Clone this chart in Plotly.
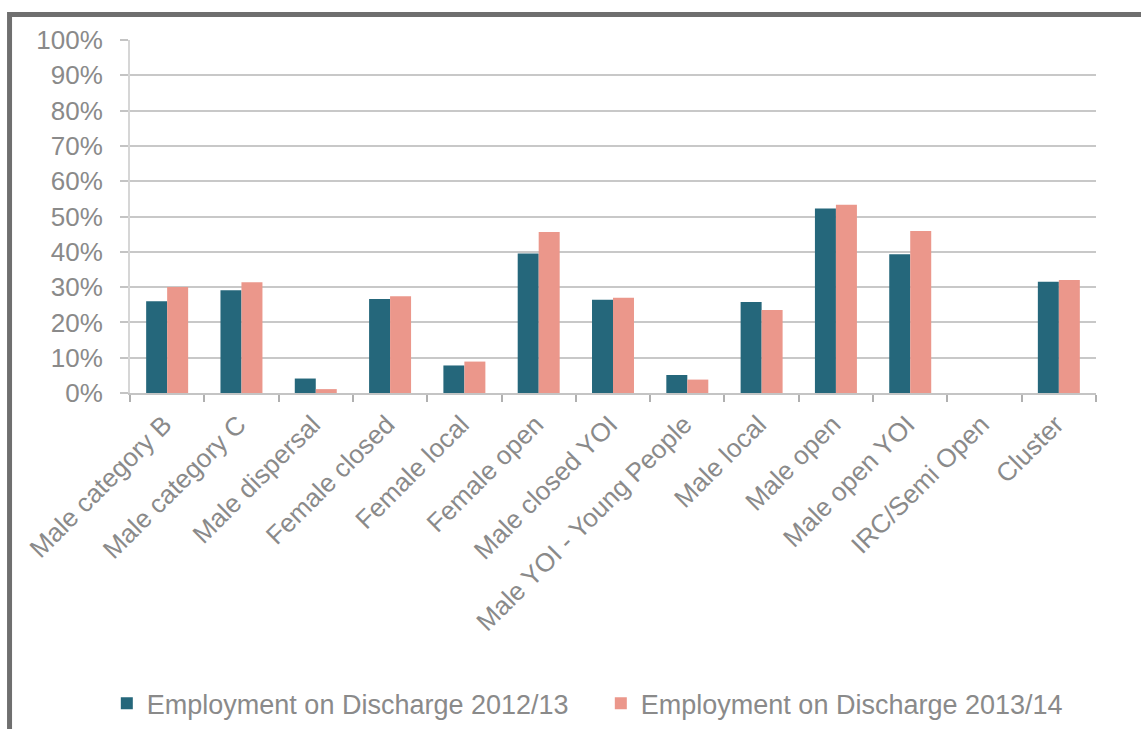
import plotly.graph_objects as go

categories = ["Male category B", "Male category C", "Male dispersal", "Female closed",
              "Female local", "Female open", "Male closed YOI", "Male YOI - Young People",
              "Male local", "Male open", "Male open YOI", "IRC/Semi Open", "Cluster"]
emp_2012_13 = [0.26, 0.291, 0.041, 0.266, 0.078, 0.395, 0.264, 0.051, 0.258, 0.523, 0.393, None, 0.315]
emp_2013_14 = [0.30, 0.314, 0.011, 0.274, 0.089, 0.456, 0.270, 0.038, 0.235, 0.533, 0.459, None, 0.320]
series_names = ["Employment on Discharge 2012/13", "Employment on Discharge 2013/14"]
y_ticks = [i / 10 for i in range(11)]
y_tick_labels = [f"{i*10}%" for i in range(11)]

FONT = "Liberation Sans, Arial, sans-serif"
TEXT = "#8a8a8a"
FS = 26

fig = go.Figure()
fig.add_trace(go.Bar(x=categories, y=emp_2012_13, name=series_names[0],
                     marker=dict(color="#25677b", line=dict(width=0))))
fig.add_trace(go.Bar(x=categories, y=emp_2013_14, name=series_names[1],
                     marker=dict(color="#eb978b", line=dict(width=0))))

fig.update_layout(
    width=1141, height=729,
    margin=dict(l=130, r=45, t=40, b=336, autoexpand=False),
    paper_bgcolor="white", plot_bgcolor="white",
    barmode="group", bargap=0.435, bargroupgap=0,
    font=dict(family=FONT, size=FS, color=TEXT),
    showlegend=True,
    legend=dict(orientation="h", x=-0.024, xanchor="left", y=-0.88, yanchor="middle",
                font=dict(family=FONT, size=27, color=TEXT),
                itemwidth=30, traceorder="normal",
                entrywidth=449, entrywidthmode="pixels"),
    xaxis=dict(type="category", showgrid=False, showline=True, linecolor="#c4c4c4", linewidth=2,
               ticks="outside", tickson="boundaries", ticklen=7, tickcolor="#b0b0b0", tickwidth=1.5,
               tickangle=-45, tickfont=dict(family=FONT, size=FS, color=TEXT),
               ticklabelstandoff=4, ticklabelshift=-3),
    yaxis=dict(range=[0, 1], tickvals=y_ticks, ticktext=y_tick_labels,
               showgrid=True, gridcolor="#c8c8c8", gridwidth=1.5,
               showline=True, linecolor="#d6d6d6", linewidth=2,
               ticks="outside", ticklen=8, tickcolor="#c4c4c4", tickwidth=1.5,
               zeroline=False, tickfont=dict(family=FONT, size=FS, color=TEXT),
               ticklabelstandoff=12),
)

# outer frame (grey border on top and left)
fig.add_shape(type="rect", xref="paper", yref="paper",
              x0=-0.1247, x1=1.2, y0=-1.2, y1=1.072,
              line=dict(color="#6f6f6f", width=5), fillcolor="rgba(0,0,0,0)", layer="below")

fig.write_html("out.html")
